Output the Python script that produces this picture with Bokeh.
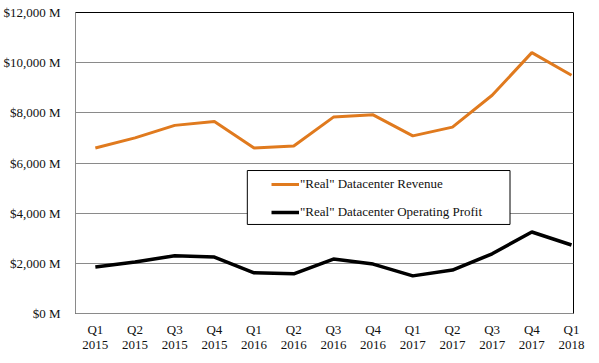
from bokeh.plotting import figure
from bokeh.models import ColumnDataSource, Range1d, FixedTicker, BoxAnnotation, Legend, LegendItem
from bokeh.embed import file_html
from bokeh.resources import INLINE

quarters = ["Q1\n2015", "Q2\n2015", "Q3\n2015", "Q4\n2015",
            "Q1\n2016", "Q2\n2016", "Q3\n2016", "Q4\n2016",
            "Q1\n2017", "Q2\n2017", "Q3\n2017", "Q4\n2017", "Q1\n2018"]
revenue = [6600, 7000, 7500, 7650, 6600, 6680, 7830, 7920, 7080, 7430, 8700, 10400, 9500]
profit = [1850, 2050, 2300, 2250, 1620, 1580, 2170, 1970, 1500, 1730, 2380, 3250, 2730]
y_ticks = [0, 2000, 4000, 6000, 8000, 10000, 12000]
y_labels = ["$0 M", "$2,000 M", "$4,000 M", "$6,000 M", "$8,000 M", "$10,000 M", "$12,000 M"]

FONT = "Liberation Serif"
idx = list(range(len(quarters)))
src = ColumnDataSource(dict(x=idx, rev=revenue, prof=profit))

p = figure(frame_width=498, frame_height=301, output_backend="svg", toolbar_location=None,
           x_range=Range1d(-0.5, 12.05), y_range=Range1d(0, 12000),
           min_border_left=75, min_border_right=26, min_border_top=12, min_border_bottom=50)
p.outline_line_color = "black"
p.outline_line_width = 1
p.background_fill_color = "white"
p.border_fill_color = "white"

p.xgrid.visible = False
p.ygrid.grid_line_color = "#8a8a8a"
p.ygrid.grid_line_width = 1
p.ygrid.ticker = FixedTicker(ticks=y_ticks)

p.yaxis.ticker = FixedTicker(ticks=y_ticks)
p.yaxis.major_label_overrides = {t: l for t, l in zip(y_ticks, y_labels)}
p.xaxis.ticker = FixedTicker(ticks=idx)
p.xaxis.major_label_overrides = {i: q for i, q in zip(idx, quarters)}

for ax in (p.xaxis, p.yaxis):
    ax.axis_line_color = "#8a8a8a"
    ax.major_tick_line_color = None
    ax.minor_tick_line_color = None
    ax.major_label_text_font = FONT
    ax.major_label_text_font_size = "13px"
    ax.major_label_text_color = "#111111"
p.yaxis.major_label_standoff = 9
p.xaxis.major_label_standoff = 2
p.xaxis.major_label_text_line_height = 1.0

r1 = p.line("x", "rev", source=src, line_color="#E07A1E", line_width=3)
r2 = p.line("x", "prof", source=src, line_color="black", line_width=3.5)

box = BoxAnnotation(left=3.83, right=10.45, bottom=3550, top=5700,
                    fill_color="white", fill_alpha=1.0, line_color="black", line_width=1, line_alpha=1.0)
p.add_layout(box)

legend = Legend(items=[LegendItem(label='"Real" Datacenter Revenue', renderers=[r1]),
                       LegendItem(label='"Real" Datacenter Operating Profit', renderers=[r2])],
                location=(196, 93), padding=0, spacing=12, glyph_width=28, glyph_height=16,
                label_height=16, label_standoff=1, border_line_color=None,
                background_fill_alpha=0.0,
                label_text_font=FONT, label_text_font_size="13px", label_text_color="#111111")
p.add_layout(legend, "center")

open("out.html", "w").write(file_html(p, INLINE))
